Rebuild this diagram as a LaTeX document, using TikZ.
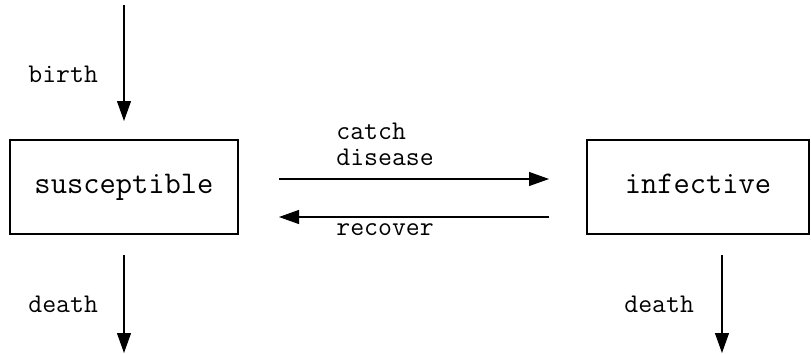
\documentclass[tikz,border=0pt]{standalone}
\usepackage{fontspec}
\usetikzlibrary{arrows.meta}
\begin{document}
\begin{tikzpicture}[x=0.5pt,y=-0.5pt,
  compbox/.style={draw, line width=0.6pt, minimum width=114pt, minimum height=47pt, inner sep=0pt,
    font=\ttfamily\fontsize{15.8}{18}\selectfont, text height=9pt, text depth=2.5pt},
  lbl/.style={inner sep=0pt, anchor=base west, font=\ttfamily\fontsize{13.5}{16}\selectfont},
  flow/.style={line width=0.6pt, -{Triangle[length=10pt,width=7pt]}}]
\useasboundingbox (0,0) rectangle (811,354);
\node[compbox] (s) at (124,187) {susceptible};
\node[compbox, minimum width=111pt] (i) at (698,187) {infective};
\coordinate (b0) at (124,5);
\coordinate (b1) at (124,121);
\coordinate (sd0) at (124,255);
\coordinate (sd1) at (124,353);
\coordinate (id0) at (722,255);
\coordinate (id1) at (722,353);
\coordinate (c0) at (279,179);
\coordinate (c1) at (549,179);
\coordinate (r0) at (549,217);
\coordinate (r1) at (279,217);
\draw[flow] (b0) -- (b1);
\draw[flow] (sd0) -- (sd1);
\draw[flow] (id0) -- (id1);
\draw[flow] (c0) -- (c1);
\draw[flow] (r0) -- (r1);
\node[lbl] (lb) at (28,82) {birth};
\node[lbl] (ld1) at (28,312) {death};
\node[lbl] (ld2) at (624,312) {death};
\node[lbl] (lc1) at (336,139) {catch};
\node[lbl] (lc2) at (336,165) {disease};
\node[lbl] (lr) at (336,235) {recover};
\end{tikzpicture}
\end{document}
